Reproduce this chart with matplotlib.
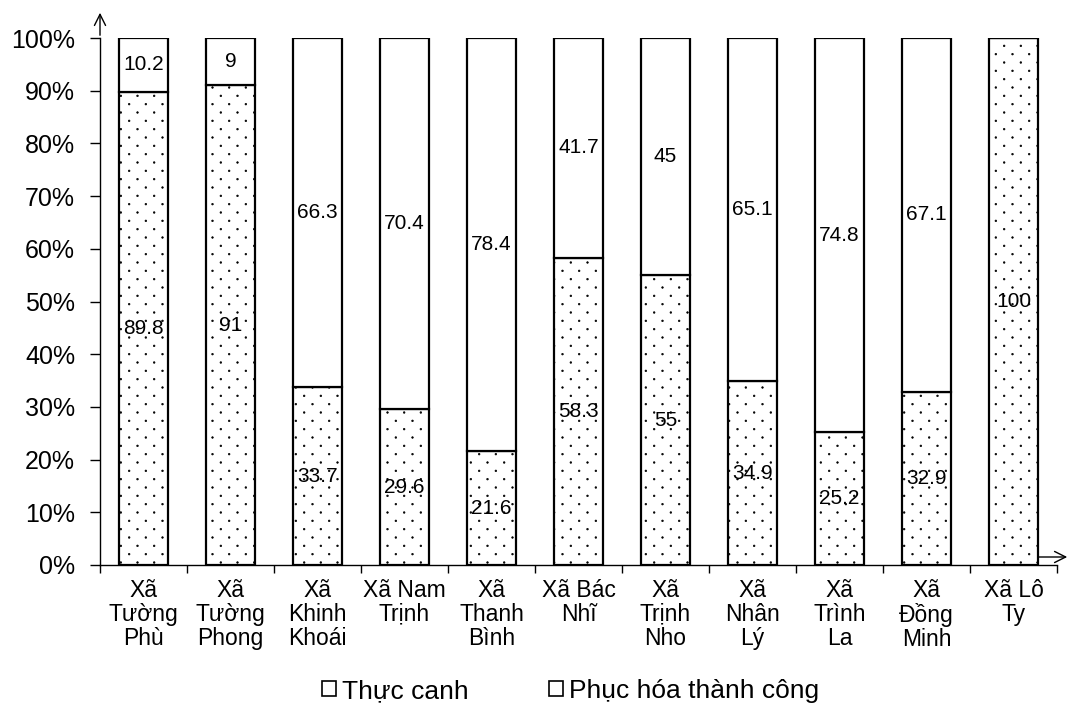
import numpy as np
import matplotlib.pyplot as plt
from matplotlib import hatch as mhatch
from matplotlib.path import Path
from matplotlib.patches import Patch

plt.rcParams['font.family'] = ['Liberation Sans', 'DejaVu Sans']
plt.rcParams['hatch.linewidth'] = 0.5


# sparse staggered dot texture (Excel-like "5%" pattern) used for the '.' hatch
class SparseDots(mhatch.HatchPatternBase):
    def __init__(self, hatch, density):
        n = hatch.count('.')
        circ = Path.unit_circle()
        self.shape_vertices = circ.vertices * 0.008
        self.shape_codes = circ.codes
        self.cols, self.rows = 6 * n, 12 * n
        self.num_vertices = self.cols * self.rows * len(circ.vertices)

    def set_vertices_and_codes(self, vertices, codes):
        k = len(self.shape_vertices)
        i = 0
        for r in range(self.rows):
            for c in range(self.cols):
                cx = (c + (0.25 if r % 2 == 0 else 0.75)) / self.cols
                cy = (r + 0.5) / self.rows
                vertices[i:i + k] = self.shape_vertices + [cx, cy]
                codes[i:i + k] = self.shape_codes
                i += k


mhatch._hatch_types = [SparseDots if t is mhatch.SmallFilledCircles else t
                       for t in mhatch._hatch_types]

# DATA ----------------
communes = ["Xã\nTường\nPhù", "Xã\nTường\nPhong", "Xã\nKhinh\nKhoái", "Xã Nam\nTrịnh",
            "Xã\nThanh\nBình", "Xã Bác\nNhĩ", "Xã\nTrịnh\nNho", "Xã\nNhân\nLý",
            "Xã\nTrình\nLa", "Xã\nĐồng\nMinh", "Xã Lô\nTy"]
thuc_canh = [89.8, 91, 33.7, 29.6, 21.6, 58.3, 55, 34.9, 25.2, 32.9, 100]
phuc_hoa = [10.2, 9, 66.3, 70.4, 78.4, 41.7, 45, 65.1, 74.8, 67.1, 0]
label_thuc = ["89.8", "91", "33.7", "29.6", "21.6", "58.3", "55", "34.9", "25.2", "32.9", "100"]
label_phuc = ["10.2", "9", "66.3", "70.4", "78.4", "41.7", "45", "65.1", "74.8", "67.1", ""]

# PLOTTING ------------
fig = plt.figure(figsize=(10.72, 7.08), dpi=100)
ax = fig.add_axes([100/1072, (708-565)/708, 957/1072, 527/708])

x = np.arange(len(communes))
w = 0.57
ax.bar(x, thuc_canh, w, color='white', edgecolor='black', hatch='.', linewidth=1.6)
ax.bar(x, phuc_hoa, w, bottom=thuc_canh, color='white', edgecolor='black', linewidth=1.6)

for xi, v, lab in zip(x, thuc_canh, label_thuc):
    if lab:
        ax.text(xi, v/2, lab, ha='center', va='center', fontsize=15)
for xi, v, b, lab in zip(x, phuc_hoa, thuc_canh, label_phuc):
    if lab:
        ax.text(xi, b + v/2, lab, ha='center', va='center', fontsize=15)

ax.set_xlim(-0.5, len(communes) - 0.5)
ax.set_ylim(0, 100)
ax.set_yticks(np.arange(0, 101, 10))
ax.set_yticklabels([f"{t}%" for t in range(0, 101, 10)], fontsize=18)
ax.set_xticks(x)
ax.set_xticklabels(communes, fontsize=16.5, linespacing=1.05)
ax.tick_params(axis='x', length=0, pad=10)
ax.set_xticks(np.arange(-0.5, len(communes), 1), minor=True)
ax.tick_params(axis='x', which='minor', length=6, width=1)
ax.tick_params(axis='y', length=7, width=1, pad=11)

for s in ['top', 'right']:
    ax.spines[s].set_visible(False)
ax.spines['left'].set_linewidth(1)
ax.spines['bottom'].set_linewidth(1)

# axis arrows
ax.annotate('', xy=(100/1072, 1 - 10/708), xytext=(100/1072, 1 - 38/708),
            xycoords='figure fraction',
            arrowprops=dict(arrowstyle='->', lw=1, color='black', mutation_scale=20))
ax.annotate('', xy=(1070/1072, (708-557)/708), xytext=(1035/1072, (708-557)/708),
            xycoords='figure fraction',
            arrowprops=dict(arrowstyle='->', lw=1, color='black', mutation_scale=20))

handles = [Patch(facecolor='white', edgecolor='black', linewidth=1.2),
           Patch(facecolor='white', edgecolor='black', linewidth=1.2)]
fig.legend(handles, ["Thực canh", "Phục hóa thành công"], loc='center',
           bbox_to_anchor=(0.532, 1 - 691/708), ncol=2, frameon=False, fontsize=19,
           handlelength=0.53, handleheight=0.53, handletextpad=0.23, columnspacing=3.05,
           borderpad=0, borderaxespad=0)

fig.savefig('out.png', dpi=100)
